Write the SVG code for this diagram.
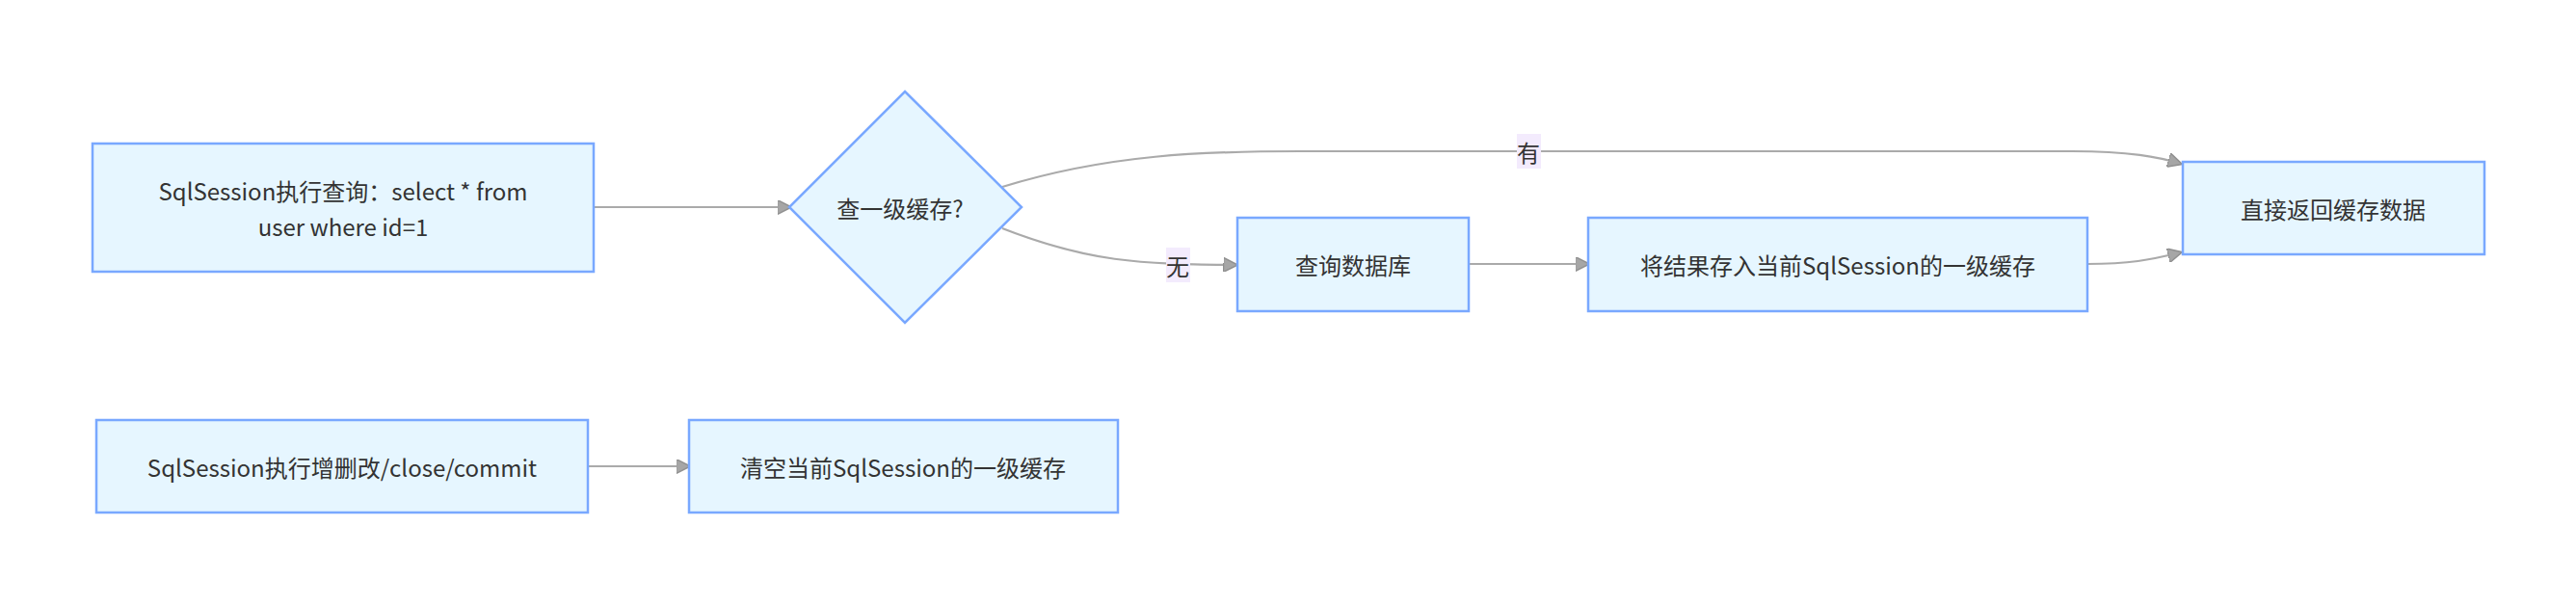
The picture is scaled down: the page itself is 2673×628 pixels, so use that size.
<svg xmlns="http://www.w3.org/2000/svg" width="2673" height="628" viewBox="0 0 2673 628">
<style>
.node{fill:#e6f6ff;stroke:#79a8ff;stroke-width:2.5;}
.t{font-family:"Noto Sans CJK SC","Noto Sans",sans-serif;font-size:24px;fill:#333;text-anchor:middle;dominant-baseline:central;}
.edge{fill:none;stroke:#aaaaaa;stroke-width:2.2;}
.lbg{fill:#f3ebfd;}
</style>
<defs>
<marker id="arr" viewBox="0 0 10 10" refX="9" refY="5" markerUnits="userSpaceOnUse" markerWidth="15" markerHeight="15" orient="auto">
<path d="M0,0 L10,5 L0,10 z" fill="#a6a6a6" stroke="#909090" stroke-width="1"/>
</marker>
</defs>
<rect width="2673" height="628" fill="#ffffff"/>
<g id="edges">
<path class="edge" d="M616,215 L820,215" marker-end="url(#arr)"/>
<path class="edge" d="M1040,194 C1150,160 1250,157 1350,157 L2150,157 C2210,157 2240,163 2263,170" marker-end="url(#arr)"/>
<path class="edge" d="M1040,237 C1130,272 1180,274 1283,275" marker-end="url(#arr)"/>
<path class="edge" d="M1524,274 L1648,274" marker-end="url(#arr)"/>
<path class="edge" d="M2166,274 C2210,274 2230,270 2263,262" marker-end="url(#arr)"/>
<path class="edge" d="M610,484 L715,484" marker-end="url(#arr)"/>
<rect class="lbg" x="1574" y="139" width="25" height="36"/>
<text class="t" x="1586" y="157">有</text>
<rect class="lbg" x="1210" y="257" width="25" height="36"/>
<text class="t" x="1222" y="275">无</text>
</g>
<g id="n1">
<rect class="node" x="96" y="149" width="520" height="133"/>
<text class="t" x="356" y="197">SqlSession执行查询：select * from</text>
<text class="t" x="356" y="234">user where id=1</text>
</g>
<g id="n2">
<polygon class="node" points="939,95 1060,215 939,335 819,215"/>
<text class="t" x="934" y="215">查一级缓存?</text>
</g>
<g id="n3">
<rect class="node" x="1284" y="226" width="240" height="97"/>
<text class="t" x="1404" y="274">查询数据库</text>
</g>
<g id="n4">
<rect class="node" x="1648" y="226" width="518" height="97"/>
<text class="t" x="1907" y="274">将结果存入当前SqlSession的一级缓存</text>
</g>
<g id="n5">
<rect class="node" x="2265" y="168" width="313" height="96"/>
<text class="t" x="2421" y="216">直接返回缓存数据</text>
</g>
<g id="n6">
<rect class="node" x="100" y="436" width="510" height="96"/>
<text class="t" x="355" y="484">SqlSession执行增删改/close/commit</text>
</g>
<g id="n7">
<rect class="node" x="715" y="436" width="445" height="96"/>
<text class="t" x="937" y="484">清空当前SqlSession的一级缓存</text>
</g>
</svg>
